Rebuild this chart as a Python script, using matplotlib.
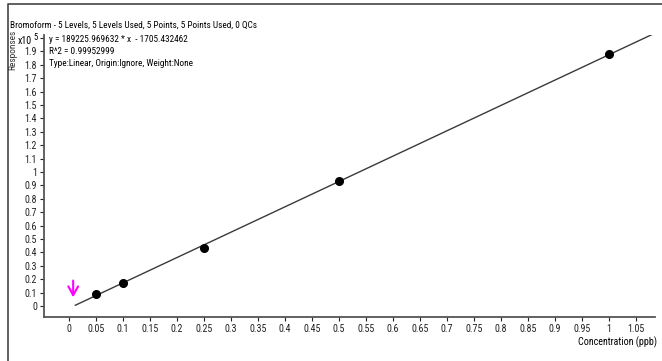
import numpy as np
import matplotlib.pyplot as plt
from matplotlib import font_manager
from matplotlib.lines import Line2D

# pick a narrow face if one is installed, otherwise shrink the regular one
installed = {f.name for f in font_manager.fontManager.ttflist}
narrow = [n for n in ['Liberation Sans Narrow', 'Roboto Condensed', 'Open Sans Condensed']
          if n in installed]
if narrow:
    plt.rcParams['font.family'] = [narrow[0], 'DejaVu Sans']
    fs_text, fs_tick = 6.7, 7.2
else:
    plt.rcParams['font.family'] = ['Liberation Sans', 'DejaVu Sans']
    fs_text, fs_tick = 6.0, 6.3

# calibration levels (ppb) and responses (x10^5)
conc = [0.05, 0.1, 0.25, 0.5, 1.0]
resp = [0.09, 0.17, 0.43, 0.93, 1.88]
slope = 189225.969632
intercept = -1705.432462
r2 = 0.99952999
line_x = [0.012, 1.085]

xticks = [round(0.05 * i, 2) for i in range(22)]
xlabels = ['0', '0.05', '0.1', '0.15', '0.2', '0.25', '0.3', '0.35', '0.4', '0.45', '0.5',
           '0.55', '0.6', '0.65', '0.7', '0.75', '0.8', '0.85', '0.9', '0.95', '1', '1.05']
yticks = [round(0.1 * i, 1) for i in range(21)]
ylabels = ['0', '0.1', '0.2', '0.3', '0.4', '0.5', '0.6', '0.7', '0.8', '0.9', '1',
           '1.1', '1.2', '1.3', '1.4', '1.5', '1.6', '1.7', '1.8', '1.9', '']

fig = plt.figure(figsize=(6.62, 3.61), dpi=100)
ax = fig.add_axes([44 / 662, 1 - 317 / 361, (655 - 44) / 662, (317 - 35) / 361])

lx = np.array(line_x)
ax.plot(lx, (slope * lx + intercept) / 1e5, color='#3a3a3a', lw=1.0)
ax.plot(conc, resp, 'o', color='black', ms=5.5)
# magenta marker arrow near the origin
ax.annotate('', xy=(0.008, 0.065), xytext=(0.008, 0.19),
            arrowprops=dict(arrowstyle='->, head_length=0.45, head_width=0.25',
                            color='#ff00ff', lw=1.5, mutation_scale=14,
                            shrinkA=0, shrinkB=0))

ax.set_xlim(-0.046, 1.085)
ax.set_ylim(-0.082, 2.022)
ax.set_xticks(xticks)
ax.set_xticklabels(xlabels)
ax.set_yticks(yticks)
ax.set_yticklabels(ylabels)
ax.tick_params(labelsize=fs_tick, length=3, width=0.8, pad=2, colors='#222222')
for s in ['top', 'right']:
    ax.spines[s].set_visible(False)
for s in ['left', 'bottom']:
    ax.spines[s].set_color('#555555')
    ax.spines[s].set_linewidth(1.3)

# axis texts
fig.text(32 / 662, 1 - 41 / 361, 'x10', fontsize=fs_tick, ha='right', va='center')
fig.text(33 / 662, 1 - 38 / 361, '5', fontsize=fs_tick - 1, ha='left', va='center')
fig.text(13 / 662, 1 - 50 / 361, 'Responses', fontsize=fs_tick - 0.5, rotation=90,
         ha='center', va='center', color='#333333')
fig.text(657 / 662, 1 - 342 / 361, 'Concentration (ppb)', fontsize=fs_tick,
         ha='right', va='center')

fig.text(10 / 662, 1 - 25 / 361,
         'Bromoform - 5 Levels, 5 Levels Used, 5 Points, 5 Points Used, 0 QCs',
         fontsize=fs_text, ha='left', va='center')
fig.text(49 / 662, 1 - 40 / 361, 'y = %.6f * x  - %.6f' % (slope, -intercept),
         fontsize=fs_text, ha='left', va='center')
fig.text(49 / 662, 1 - 51.5 / 361, "R^2 = %.8f" % r2, fontsize=fs_text,
         ha='left', va='center')
fig.text(49 / 662, 1 - 63 / 361, 'Type:Linear, Origin:Ignore, Weight:None',
         fontsize=fs_text, ha='left', va='center')

# outer frame
fig.add_artist(Line2D([8 / 662, 8 / 662, 1], [0, 1 - 4 / 361, 1 - 4 / 361],
                      color='#444444', lw=1.2, transform=fig.transFigure))

fig.savefig('out.png', dpi=100)
